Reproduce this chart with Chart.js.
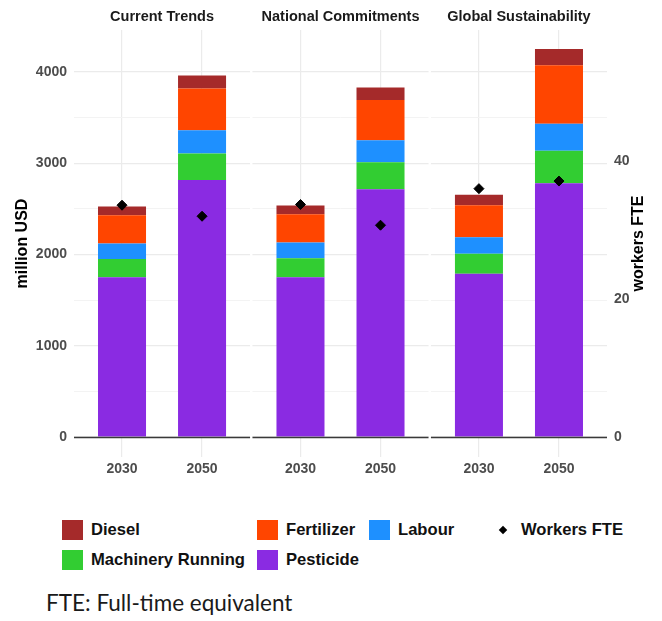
<!DOCTYPE html>
<html lang="en">
<head>
<meta charset="UTF-8" />
<title>Costs by scenario</title>
<style>
  body { margin: 0; background: #fff; font-family: "Liberation Sans", Arial, sans-serif; }
  #wrap { position: relative; width: 662px; height: 621px; }
  #chart { position: absolute; left: 0; top: 0; }
  .lg { position: absolute; display: flex; align-items: center; font-weight: bold; font-size: 16.6px; color: #111; white-space: nowrap; }
  .lg .box { width: 21px; height: 20px; margin-right: 8px; }
  .lg .dia { width: 6px; height: 6px; background: #000; transform: rotate(45deg); margin: 0 15px 0 0; }
  #caption { position: absolute; left: 46px; top: 592px; line-height: 1; font-family: Lato, "Open Sans", sans-serif; font-size: 22.5px; color: #1a1a1a; }
</style>
<script src="https://cdn.jsdelivr.net/npm/chart.js"></script>
</head>
<body>
<div id="wrap">
  <canvas id="chart" width="662" height="490"></canvas>
  <div id="legend"></div>
  <div id="caption">FTE: Full-time equivalent</div>
</div>

<script>
  // facets and categories
  const scenarios = ["Current Trends", "National Commitments", "Global Sustainability"];
  const years = ["2030", "2050"];

  // million USD, order: CT 2030, CT 2050, NC 2030, NC 2050, GS 2030, GS 2050
  const pesticide  = [1750, 2815, 1752, 2716, 1789, 2782];
  const machinery  = [200, 292, 208, 296, 219, 354];
  const labour     = [171, 255, 172, 241, 182, 296];
  const fertilizer = [310, 457, 310, 441, 351, 642];
  const diesel     = [96, 143, 95, 135, 113, 179];

  // workers FTE (right axis)
  const workers = [33.6, 32.0, 33.7, 30.7, 36.0, 37.1];

  const usdTicks = [0, 500, 1000, 1500, 2000, 2500, 3000, 3500, 4000];
  const fteTicks = [0, 20, 40];

  // facet layout on a numeric x axis: each panel is 2.2 units wide
  const panelW = 2.2, gap = 0.03;
  const panelStart = scenarios.map((s, i) => i * (panelW + gap));
  const xMax = panelStart[panelStart.length - 1] + panelW;
  const xPos = [];
  panelStart.forEach(p => years.forEach((y, j) => xPos.push(p + 0.6 + j)));
  const panelMid = panelStart.map(p => p + panelW / 2);

  const usdPerWorker = 75.6;
  const yMin = -219, yMax = 4460;

  const FONT = "'Liberation Sans', Arial, sans-serif";

  const series = [
    { label: "Pesticide", data: pesticide, color: "#8A2BE2" },
    { label: "Machinery Running", data: machinery, color: "#32CD32" },
    { label: "Labour", data: labour, color: "#1E90FF" },
    { label: "Fertilizer", data: fertilizer, color: "#FF4500" },
    { label: "Diesel", data: diesel, color: "#A52A2A" },
  ];

  const datasets = series.map(s => ({
    type: "bar",
    label: s.label,
    data: s.data.map((v, i) => ({ x: xPos[i], y: v })),
    backgroundColor: s.color,
    borderWidth: 0,
    categoryPercentage: 0.6,
    barPercentage: 1.0,
    xAxisID: "x",
    yAxisID: "y",
  }));

  datasets.push({
    type: "line",
    label: "Workers FTE",
    data: workers.map((v, i) => ({ x: xPos[i], y: v })),
    showLine: false,
    pointStyle: "rectRot",
    pointRadius: 5,
    pointBackgroundColor: "#000",
    pointBorderColor: "#000",
    xAxisID: "x",
    yAxisID: "y1",
    order: -1,
  });

  // white gaps between facets + the zero line of each facet
  const facetPlugin = {
    id: "facets",
    beforeDatasetsDraw(chart) {
      const { ctx, chartArea, scales } = chart;
      ctx.save();
      ctx.fillStyle = "#fff";
      for (let i = 1; i < panelStart.length; i++) {
        const a = scales.x.getPixelForValue(panelStart[i - 1] + panelW);
        const b = scales.x.getPixelForValue(panelStart[i]);
        ctx.fillRect(a, chartArea.top - 1, b - a, chartArea.bottom - chartArea.top + 2);
      }
      ctx.restore();
    },
    afterDatasetsDraw(chart) {
      const { ctx, scales } = chart;
      const y0 = Math.round(scales.y.getPixelForValue(0)) + 0.5;
      ctx.save();
      ctx.strokeStyle = "#3a3a3a";
      ctx.lineWidth = 1.6;
      panelStart.forEach(p => {
        ctx.beginPath();
        ctx.moveTo(scales.x.getPixelForValue(p), y0);
        ctx.lineTo(scales.x.getPixelForValue(p + panelW), y0);
        ctx.stroke();
      });
      ctx.restore();
    },
    afterDraw(chart) {
      // right axis title reads bottom-to-top like the left one
      const { ctx, chartArea, scales } = chart;
      ctx.save();
      ctx.translate(scales.y1.right - 23.5, (chartArea.top + chartArea.bottom) / 2);
      ctx.rotate(-Math.PI / 2);
      ctx.font = "bold 16px " + FONT;
      ctx.fillStyle = "#000";
      ctx.textAlign = "center";
      ctx.textBaseline = "middle";
      ctx.fillText("workers FTE", 0, 0);
      ctx.restore();
    },
  };

  new Chart(document.getElementById("chart"), {
    data: { datasets },
    plugins: [facetPlugin],
    options: {
      responsive: false,
      animation: false,
      devicePixelRatio: 1,
      layout: { padding: 0 },
      plugins: { legend: { display: false }, tooltip: { enabled: false } },
      scales: {
        x: {
          type: "linear",
          position: "bottom",
          offset: false,
          min: 0,
          max: xMax,
          stacked: true,
          afterBuildTicks: axis => { axis.ticks = xPos.map(v => ({ value: v })); },
          afterFit: s => { s.height = 33; },
          ticks: {
            callback: (v, i) => years[i % years.length],
            autoSkip: false,
            maxRotation: 0,
            padding: 4,
            color: "#4d4d4d",
            font: { family: FONT, size: 14, weight: "bold" },
          },
          grid: { color: "#ebebeb", lineWidth: 1.2, drawTicks: false, offset: false },
          border: { display: false },
        },
        x2: {
          type: "linear",
          position: "top",
          offset: false,
          min: 0,
          max: xMax,
          afterBuildTicks: axis => { axis.ticks = panelMid.map(v => ({ value: v })); },
          afterFit: s => { s.height = 30; },
          ticks: {
            callback: (v, i) => scenarios[i],
            autoSkip: false,
            maxRotation: 0,
            padding: 4,
            color: "#1a1a1a",
            font: { family: FONT, size: 14.5, weight: "bold" },
          },
          grid: { display: false, drawTicks: false },
          border: { display: false },
        },
        y: {
          type: "linear",
          position: "left",
          min: yMin,
          max: yMax,
          stacked: true,
          afterBuildTicks: axis => { axis.ticks = usdTicks.map(v => ({ value: v })); },
          afterFit: s => { s.width = 74; },
          ticks: {
            callback: v => (v % 1000 === 0 ? v : ""),
            padding: 7,
            color: "#4d4d4d",
            font: { family: FONT, size: 14, weight: "bold" },
          },
          grid: {
            color: c => (c.tick && c.tick.value % 1000 === 0 ? "#ebebeb" : "#f3f3f3"),
            lineWidth: c => (c.tick && c.tick.value % 1000 === 0 ? 1.2 : 1),
            drawTicks: false,
          },
          border: { display: false },
          title: {
            display: true,
            text: "million USD",
            color: "#000",
            font: { family: FONT, size: 16, weight: "bold" },
            padding: { top: 13, bottom: 0 },
          },
        },
        y1: {
          type: "linear",
          position: "right",
          min: yMin / usdPerWorker,
          max: yMax / usdPerWorker,
          afterBuildTicks: axis => { axis.ticks = fteTicks.map(v => ({ value: v })); },
          afterFit: s => { s.width = 55; },
          ticks: {
            padding: 7,
            color: "#4d4d4d",
            font: { family: FONT, size: 14, weight: "bold" },
          },
          grid: { display: false, drawTicks: false },
          border: { display: false },
        },
      },
    },
  });

  // legend laid out like the ggplot guide (columns by fill, then the point key)
  const legendItems = [
    { label: "Diesel", color: "#A52A2A", left: 62, top: 520 },
    { label: "Machinery Running", color: "#32CD32", left: 62, top: 550 },
    { label: "Fertilizer", color: "#FF4500", left: 257, top: 520 },
    { label: "Pesticide", color: "#8A2BE2", left: 257, top: 550 },
    { label: "Labour", color: "#1E90FF", left: 369, top: 520 },
    { label: "Workers FTE", color: null, left: 500, top: 520 },
  ];
  const legend = document.getElementById("legend");
  legendItems.forEach(it => {
    const d = document.createElement("div");
    d.className = "lg";
    d.style.left = it.left + "px";
    d.style.top = it.top + "px";
    d.style.height = "20px";
    const mark = document.createElement("span");
    if (it.color) {
      mark.className = "box";
      mark.style.background = it.color;
    } else {
      mark.className = "dia";
    }
    d.appendChild(mark);
    d.appendChild(document.createTextNode(it.label));
    legend.appendChild(d);
  });
</script>
</body>
</html>
